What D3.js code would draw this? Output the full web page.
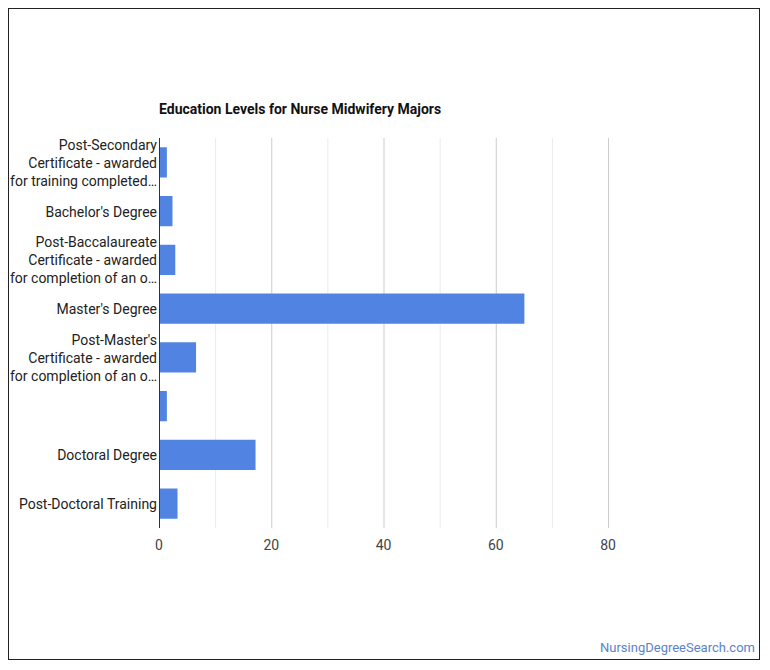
<!DOCTYPE html>
<html>
<head>
<meta charset="utf-8">
<script src="https://cdn.jsdelivr.net/npm/d3@7"></script>
<style>
  body { margin: 0; background: #fff; }
  svg { font-family: Roboto, "Noto Sans", sans-serif; }
</style>
</head>
<body>
<svg id="chart"></svg>
<script>
// categories, each split into the lines shown on the axis
var categories = [
  ["Post-Secondary", "Certificate - awarded", "for training completed…"],
  ["Bachelor's Degree"],
  ["Post-Baccalaureate", "Certificate - awarded", "for completion of an o…"],
  ["Master's Degree"],
  ["Post-Master's", "Certificate - awarded", "for completion of an o…"],
  [""],
  ["Doctoral Degree"],
  ["Post-Doctoral Training"]
];
var values = [1.4, 2.4, 2.9, 65.1, 6.6, 1.4, 17.2, 3.3];
var tickValues = [0, 20, 40, 60, 80];
var gridValues = [10, 20, 30, 40, 50, 60, 70, 80];

var width = 770, height = 670;
// note: "top" is reserved on window, so use plot* names
var plotLeft = 159, plotRight = 608, plotTop = 138, plotBottom = 528;

var svg = d3.select("#chart")
    .attr("width", width)
    .attr("height", height);

// outer frame
svg.append("rect")
    .attr("x", 8.5).attr("y", 8.5)
    .attr("width", 751).attr("height", 651)
    .attr("fill", "#fff")
    .attr("stroke", "#222");

svg.append("text")
    .attr("x", plotLeft).attr("y", 114)
    .attr("font-size", 14).attr("font-weight", "bold")
    .attr("fill", "#111")
    .text("Education Levels for Nurse Midwifery Majors");

var x = d3.scaleLinear().domain([0, 80]).range([plotLeft, plotRight]);
var y = d3.scaleBand()
    .domain(d3.range(categories.length))
    .range([plotTop, plotBottom])
    .paddingInner(0.38).paddingOuter(0.19);

// gridlines
svg.selectAll("line.grid")
    .data(gridValues)
    .enter().append("line")
    .attr("class", "grid")
    .attr("x1", function(d) { return x(d) + 0.5; })
    .attr("x2", function(d) { return x(d) + 0.5; })
    .attr("y1", plotTop).attr("y2", plotBottom)
    .attr("stroke", function(d) { return d % 20 === 0 ? "#ccc" : "#ebebeb"; });

svg.selectAll("rect.bar")
    .data(values)
    .enter().append("rect")
    .attr("class", "bar")
    .attr("x", x(0))
    .attr("y", function(d, i) { return y(i); })
    .attr("width", function(d) { return x(d) - x(0); })
    .attr("height", y.bandwidth())
    .attr("fill", "#5083e2");

// baseline
svg.append("line")
    .attr("x1", x(0) + 0.5).attr("x2", x(0) + 0.5)
    .attr("y1", plotTop).attr("y2", plotBottom)
    .attr("stroke", "#333");

// x tick labels
svg.selectAll("text.tick")
    .data(tickValues)
    .enter().append("text")
    .attr("class", "tick")
    .attr("x", function(d) { return x(d); })
    .attr("y", 550)
    .attr("text-anchor", "middle")
    .attr("font-size", 14)
    .attr("fill", "#444")
    .text(function(d) { return d; });

// category labels
var lineH = 18;
var labels = svg.selectAll("text.cat")
    .data(categories)
    .enter().append("text")
    .attr("class", "cat")
    .attr("text-anchor", "end")
    .attr("font-size", 14)
    .attr("fill", "#222")
    .attr("transform", function(d, i) {
        var cy = y(i) + y.bandwidth() / 2;
        return "translate(" + (plotLeft - 2) + "," + (cy - (d.length - 1) * lineH / 2 + 5.5) + ")";
    });
labels.selectAll("tspan")
    .data(function(d) { return d; })
    .enter().append("tspan")
    .attr("x", 0)
    .attr("dy", function(d, i) { return i === 0 ? 0 : lineH; })
    .text(function(d) { return d; });

svg.append("text")
    .attr("x", 755).attr("y", 652)
    .attr("text-anchor", "end")
    .attr("font-size", 13)
    .attr("fill", "#5b82c9")
    .text("NursingDegreeSearch.com");
</script>
</body>
</html>
